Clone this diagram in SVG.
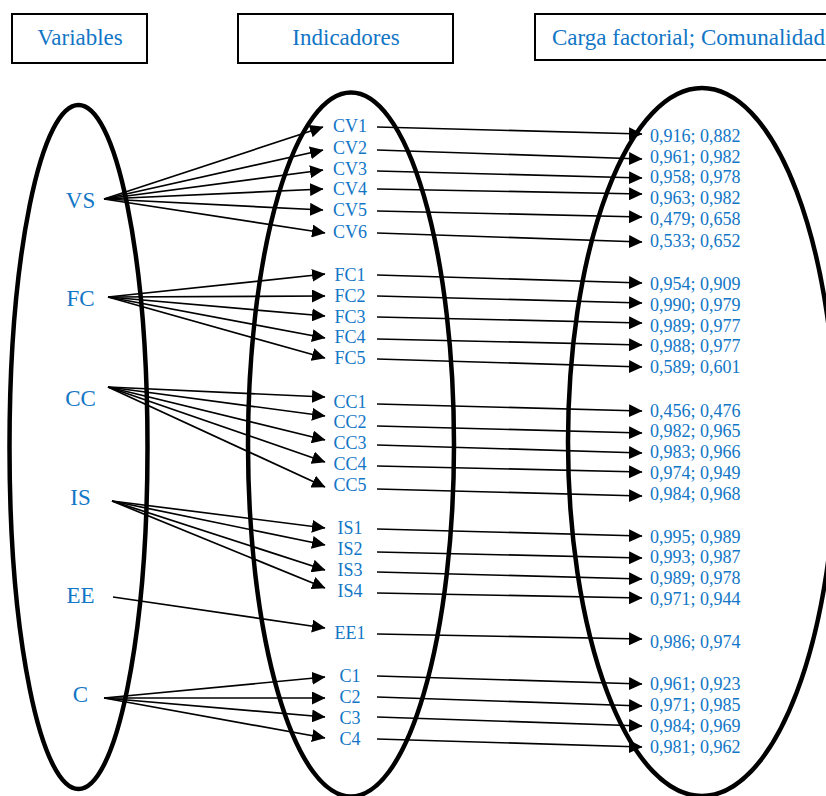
<svg xmlns="http://www.w3.org/2000/svg" width="826" height="796" viewBox="0 0 826 796">
<style>
text{font-family:"Liberation Serif","Times New Roman",serif;fill:#1276c6}
.hdr{font-size:23px}
.var{font-size:23px;text-anchor:middle}
.ind{font-size:18px;text-anchor:middle}
.val{font-size:18px}
.box{fill:#fff;stroke:#000;stroke-width:2}
.ell{fill:none;stroke:#000;stroke-width:4.5}
.cn line{stroke:#000;stroke-width:1.7;marker-end:url(#ah)}
</style>
<defs>
<marker id="ah" markerUnits="userSpaceOnUse" markerWidth="14" markerHeight="13" refX="13" refY="6.5" orient="auto">
<path d="M0,0 L13.5,6.5 L0,13 z" fill="#000"/>
</marker>
</defs>
<rect width="826" height="796" fill="#fff"/>
<g id="headers">
<g id="h-variables"><rect class="box" x="12" y="14" width="135" height="49"/><text class="hdr" x="80" y="45" text-anchor="middle">Variables</text></g>
<g id="h-indicadores"><rect class="box" x="238" y="14" width="215" height="49"/><text class="hdr" x="346" y="45" text-anchor="middle">Indicadores</text></g>
<g id="h-carga"><rect class="box" x="535" y="14" width="300" height="46"/><text class="hdr" x="552" y="45">Carga factorial; Comunalidad</text></g>
</g>
<g id="containers">
<ellipse id="ell-variables" class="ell" cx="78.5" cy="447" rx="69" ry="342"/>
<ellipse id="ell-indicadores" class="ell" cx="351" cy="444.5" rx="103" ry="352"/>
<ellipse id="ell-cargas" class="ell" cx="702" cy="442" rx="134" ry="354"/>
</g>
<g id="connectors" class="cn">
<line x1="104" y1="199" x2="323" y2="127"/>
<line x1="104" y1="199" x2="323" y2="150"/>
<line x1="104" y1="199" x2="323" y2="170"/>
<line x1="104" y1="199" x2="323" y2="189"/>
<line x1="104" y1="199" x2="323" y2="210"/>
<line x1="104" y1="199" x2="325" y2="233"/>
<line x1="108" y1="297" x2="325" y2="274"/>
<line x1="108" y1="297" x2="325" y2="296"/>
<line x1="108" y1="297" x2="325" y2="316"/>
<line x1="108" y1="297" x2="325" y2="338"/>
<line x1="108" y1="297" x2="325" y2="358"/>
<line x1="108" y1="387" x2="325" y2="397"/>
<line x1="108" y1="387" x2="325" y2="416"/>
<line x1="108" y1="387" x2="325" y2="440"/>
<line x1="108" y1="387" x2="325" y2="462"/>
<line x1="108" y1="387" x2="325" y2="487"/>
<line x1="112" y1="501" x2="325" y2="528"/>
<line x1="112" y1="501" x2="325" y2="545"/>
<line x1="112" y1="501" x2="325" y2="570"/>
<line x1="112" y1="501" x2="325" y2="588"/>
<line x1="113" y1="597" x2="325" y2="628"/>
<line x1="104" y1="698" x2="325" y2="677"/>
<line x1="104" y1="698" x2="325" y2="698"/>
<line x1="104" y1="698" x2="325" y2="717"/>
<line x1="104" y1="698" x2="325" y2="738"/>
<line x1="377" y1="127" x2="642" y2="134"/>
<line x1="377" y1="150" x2="642" y2="159"/>
<line x1="377" y1="171" x2="642" y2="178"/>
<line x1="377" y1="189" x2="642" y2="194"/>
<line x1="377" y1="211" x2="642" y2="217"/>
<line x1="377" y1="233" x2="642" y2="242"/>
<line x1="377" y1="275" x2="642" y2="283"/>
<line x1="377" y1="296" x2="642" y2="303"/>
<line x1="377" y1="317" x2="642" y2="323"/>
<line x1="377" y1="339" x2="642" y2="345"/>
<line x1="377" y1="359" x2="642" y2="367"/>
<line x1="377" y1="404" x2="642" y2="411"/>
<line x1="377" y1="426" x2="642" y2="433"/>
<line x1="377" y1="445" x2="642" y2="453"/>
<line x1="377" y1="466" x2="642" y2="472"/>
<line x1="377" y1="489" x2="642" y2="496"/>
<line x1="377" y1="529" x2="642" y2="536"/>
<line x1="377" y1="552" x2="642" y2="558"/>
<line x1="377" y1="572" x2="642" y2="579"/>
<line x1="377" y1="593" x2="642" y2="598"/>
<line x1="377" y1="634" x2="642" y2="639"/>
<line x1="377" y1="676" x2="642" y2="684"/>
<line x1="377" y1="697" x2="642" y2="706"/>
<line x1="377" y1="717" x2="642" y2="726"/>
<line x1="377" y1="739" x2="642" y2="747"/>
</g>
<g id="variables">
<g id="VS"><text class="var" x="80.5" y="208">VS</text></g>
<g id="FC"><text class="var" x="80.5" y="306">FC</text></g>
<g id="CC"><text class="var" x="80.5" y="406">CC</text></g>
<g id="IS"><text class="var" x="80.5" y="505">IS</text></g>
<g id="EE"><text class="var" x="80.5" y="603">EE</text></g>
<g id="C"><text class="var" x="80.5" y="702">C</text></g>
</g>
<g id="indicadores">
<g id="CV1"><text class="ind" x="350" y="132">CV1</text></g>
<g id="CV2"><text class="ind" x="350" y="154">CV2</text></g>
<g id="CV3"><text class="ind" x="350" y="175">CV3</text></g>
<g id="CV4"><text class="ind" x="350" y="195">CV4</text></g>
<g id="CV5"><text class="ind" x="350" y="216">CV5</text></g>
<g id="CV6"><text class="ind" x="350" y="238">CV6</text></g>
<g id="FC1"><text class="ind" x="350" y="281">FC1</text></g>
<g id="FC2"><text class="ind" x="350" y="302">FC2</text></g>
<g id="FC3"><text class="ind" x="350" y="323">FC3</text></g>
<g id="FC4"><text class="ind" x="350" y="343">FC4</text></g>
<g id="FC5"><text class="ind" x="350" y="364">FC5</text></g>
<g id="CC1"><text class="ind" x="350" y="408">CC1</text></g>
<g id="CC2"><text class="ind" x="350" y="428">CC2</text></g>
<g id="CC3"><text class="ind" x="350" y="449">CC3</text></g>
<g id="CC4"><text class="ind" x="350" y="470">CC4</text></g>
<g id="CC5"><text class="ind" x="350" y="491">CC5</text></g>
<g id="IS1"><text class="ind" x="350" y="534">IS1</text></g>
<g id="IS2"><text class="ind" x="350" y="555">IS2</text></g>
<g id="IS3"><text class="ind" x="350" y="576">IS3</text></g>
<g id="IS4"><text class="ind" x="350" y="597">IS4</text></g>
<g id="EE1"><text class="ind" x="350" y="639">EE1</text></g>
<g id="C1"><text class="ind" x="350" y="682">C1</text></g>
<g id="C2"><text class="ind" x="350" y="703">C2</text></g>
<g id="C3"><text class="ind" x="350" y="724">C3</text></g>
<g id="C4"><text class="ind" x="350" y="745">C4</text></g>
</g>
<g id="valores">
<g id="v-CV1"><text class="val" x="650" y="142">0,916; 0,882</text></g>
<g id="v-CV2"><text class="val" x="650" y="163">0,961; 0,982</text></g>
<g id="v-CV3"><text class="val" x="650" y="183">0,958; 0,978</text></g>
<g id="v-CV4"><text class="val" x="650" y="204">0,963; 0,982</text></g>
<g id="v-CV5"><text class="val" x="650" y="225">0,479; 0,658</text></g>
<g id="v-CV6"><text class="val" x="650" y="247">0,533; 0,652</text></g>
<g id="v-FC1"><text class="val" x="650" y="290">0,954; 0,909</text></g>
<g id="v-FC2"><text class="val" x="650" y="311">0,990; 0,979</text></g>
<g id="v-FC3"><text class="val" x="650" y="332">0,989; 0,977</text></g>
<g id="v-FC4"><text class="val" x="650" y="352">0,988; 0,977</text></g>
<g id="v-FC5"><text class="val" x="650" y="373">0,589; 0,601</text></g>
<g id="v-CC1"><text class="val" x="650" y="417">0,456; 0,476</text></g>
<g id="v-CC2"><text class="val" x="650" y="437">0,982; 0,965</text></g>
<g id="v-CC3"><text class="val" x="650" y="458">0,983; 0,966</text></g>
<g id="v-CC4"><text class="val" x="650" y="479">0,974; 0,949</text></g>
<g id="v-CC5"><text class="val" x="650" y="500">0,984; 0,968</text></g>
<g id="v-IS1"><text class="val" x="650" y="543">0,995; 0,989</text></g>
<g id="v-IS2"><text class="val" x="650" y="563">0,993; 0,987</text></g>
<g id="v-IS3"><text class="val" x="650" y="584">0,989; 0,978</text></g>
<g id="v-IS4"><text class="val" x="650" y="605">0,971; 0,944</text></g>
<g id="v-EE1"><text class="val" x="650" y="648">0,986; 0,974</text></g>
<g id="v-C1"><text class="val" x="650" y="690">0,961; 0,923</text></g>
<g id="v-C2"><text class="val" x="650" y="711">0,971; 0,985</text></g>
<g id="v-C3"><text class="val" x="650" y="732">0,984; 0,969</text></g>
<g id="v-C4"><text class="val" x="650" y="753">0,981; 0,962</text></g>
</g>
</svg>
